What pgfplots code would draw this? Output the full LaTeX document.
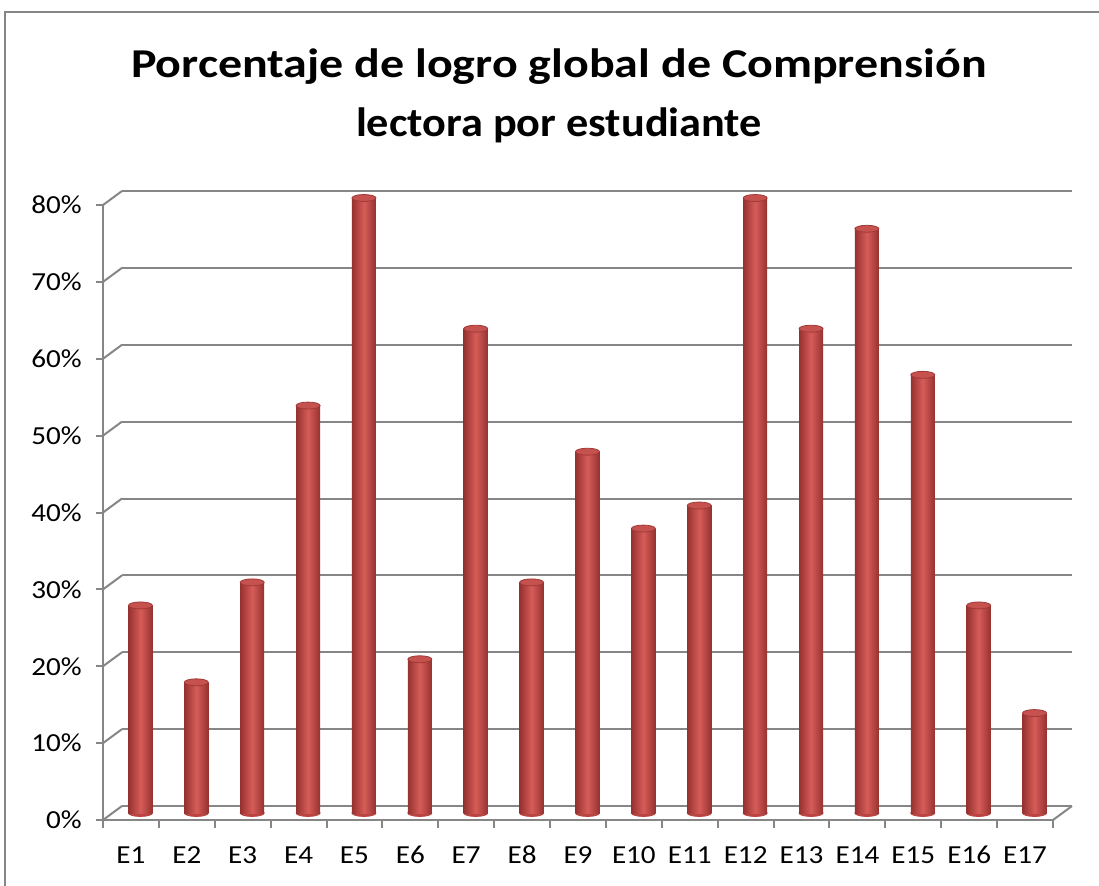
\documentclass[border=0pt]{standalone}
\usepackage{pgfplots}
\pgfplotsset{compat=1.18}
\usepackage{pgfplotstable}
\usepackage{fontspec}
\setmainfont{Carlito}
\newcommand\sx[1]{\scalebox{1.12}[1]{#1}}
\definecolor{gridgray}{RGB}{134,134,134}
\definecolor{barlight}{RGB}{214,92,88}
\definecolor{bardark}{RGB}{150,50,48}
\definecolor{bartop}{RGB}{198,82,79}
\definecolor{barline}{RGB}{160,56,53}
\definecolor{barbottom}{RGB}{185,68,65}
\pgfplotstableread{
x y
1 27
2 17
3 30
4 53
5 80
6 20
7 63
8 30
9 47
10 37
11 40
12 80
13 63
14 76
15 57
16 27
17 13
}\datatable
\pgfplotsset{
  common/.style={
    scale only axis, width=475pt, height=307.5pt,
    xmin=0.5, xmax=17.5, ymin=0, ymax=80, anchor=south west,
  },
}
\begin{document}
\begin{tikzpicture}
\path[use as bounding box] (0,0) rectangle (549.5pt,442.5pt);
\draw[gridgray, line width=1pt] (2.5pt,-2pt) -- (2.5pt,436.5pt) -- (552pt,436.5pt);
\node[anchor=base, font=\fontsize{20.5}{24}\selectfont\bfseries] at (279.5pt,403.5pt) {\scalebox{1.17}[1]{Porcentaje de logro global de Comprensión}};
\node[anchor=base, font=\fontsize{20.5}{24}\selectfont\bfseries] at (279.5pt,374pt) {\scalebox{1.08}[1]{lectora por estudiante}};
% back wall
\begin{axis}[common,
  at={(61pt,39.5pt)},
  axis line style={draw=none},
  xtick=\empty, ytick={0,10,...,80}, yticklabels={},
  major tick length=0pt, tick style={draw=none},
  ymajorgrids, grid style={gridgray, line width=1pt},
]
\addplot[draw=none, forget plot] coordinates {(1,0)};
\end{axis}
% front frame
\begin{axis}[common,
  at={(51.5pt,32.5pt)},
  axis x line*=bottom, axis y line*=left,
  axis line style={draw=gridgray, line width=1pt, -},
  xtick={1,...,17},
  xticklabels={\sx{E1},\sx{E2},\sx{E3},\sx{E4},\sx{E5},\sx{E6},\sx{E7},\sx{E8},\sx{E9},\sx{E10},\sx{E11},\sx{E12},\sx{E13},\sx{E14},\sx{E15},\sx{E16},\sx{E17}},
  minor xtick={0.5,1.5,...,17.5},
  ytick={0,10,...,80},
  yticklabels={\sx{0\%},\sx{10\%},\sx{20\%},\sx{30\%},\sx{40\%},\sx{50\%},\sx{60\%},\sx{70\%},\sx{80\%}},
  tick align=outside, major tick length=3.5pt, minor tick length=4pt,
  major x tick style={draw=none},
  tick style={gridgray, line width=1pt},
  xticklabel style={font=\fontsize{13}{15}\selectfont, anchor=base, inner sep=0pt},
  yticklabel style={font=\fontsize{13}{15}\selectfont, anchor=east, inner sep=0pt, xshift=-7pt},
  every x tick label/.append style={yshift=-18pt},
  xticklabel shift=0pt, yticklabel shift=0pt,
  clip=false,
]
\addplot[draw=none, forget plot] coordinates {(1,0)};
\pgfplotsinvokeforeach{0,10,...,80}{
  \draw[gridgray, line width=1pt] (axis cs:0.5,#1) -- ++(9.5pt,7pt);
}
\draw[gridgray, line width=1pt] (axis cs:17.5,0) -- ++(9.5pt,7pt);
\end{axis}
% bar bottoms
\begin{axis}[common, at={(56.25pt,36pt)}, hide axis, clip=false]
\addplot[only marks, color=barbottom, mark=*, mark size=6pt,
  mark options={yscale=0.29}]
  table[x=x, y expr=0] {\datatable};
\end{axis}
% bars
\begin{axis}[common, at={(56.25pt,36pt)}, hide axis, clip=false]
\pgfplotsinvokeforeach{0,...,16}{
\addplot[ybar, bar width=12pt, bar shift=0pt, draw=none,
  left color=bardark, right color=bardark, middle color=barlight,
  restrict expr to domain={\coordindex}{#1:#1}]
  table[x=x, y=y] {\datatable};
}
\end{axis}
% bar tops
\begin{axis}[common, at={(56.25pt,36pt)}, hide axis, clip=false]
\addplot[only marks, mark=*, mark size=6pt,
  mark options={yscale=0.29, fill=bartop, draw=barline, line width=0.4pt}]
  table[x=x, y=y] {\datatable};
\end{axis}
\end{tikzpicture}
\end{document}
